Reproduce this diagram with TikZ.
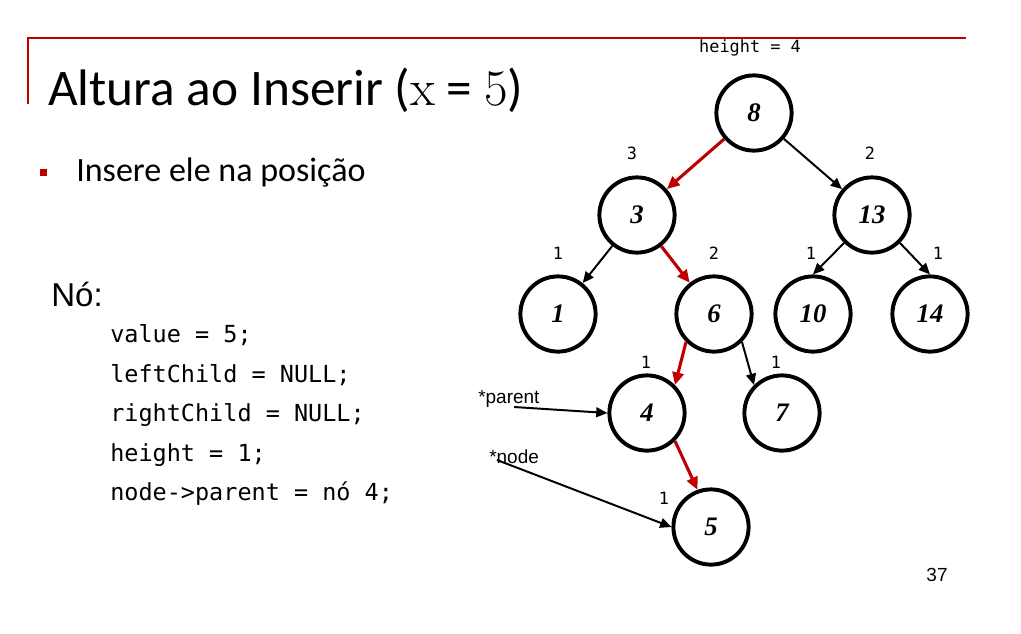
\documentclass[tikz,border=0pt]{standalone}
\usepackage{fontspec}
\usetikzlibrary{arrows.meta}
\newfontfamily\slidefont{Carlito}
\newfontfamily\arialfont{Liberation Sans}
\newfontfamily\codefont{DejaVu Sans Mono}
\newfontfamily\keyfont{Liberation Serif}
\newfontfamily\mathlike{Latin Modern Roman}
\definecolor{slidered}{RGB}{192,0,0}
\begin{document}
\begin{tikzpicture}[x=0.025cm,y=-0.025cm,
  treenode/.style={circle, draw, line width=2.8pt, minimum size=1.88cm, inner sep=0pt,
    font=\keyfont\bfseries\itshape\fontsize{19}{19}\selectfont},
  blackedge/.style={line width=1.4pt, -{Triangle[length=8pt,width=7pt]}},
  rededge/.style={slidered, line width=2.2pt, -{Triangle[length=9pt,width=8pt]}},
  hlabel/.style={font=\codefont\fontsize{12}{12}\selectfont, inner sep=0pt},
  codeline/.style={anchor=base west, inner sep=0pt, font=\codefont\fontsize{16.7}{17}\selectfont},
  pointer/.style={anchor=base west, inner sep=0pt, font=\arialfont\fontsize{13.5}{14}\selectfont}]
\fill[white] (0,0) rectangle (1021,633);
\useasboundingbox (0,0) rectangle (1021,633);

% slide frame
\draw[slidered, line width=1.4pt] (28,104) -- (28,38) -- (966,38);

% title and bullet
\node[anchor=base west, inner sep=0pt, font=\slidefont\fontsize{36.5}{37}\selectfont] (title) at (48,105)
  {Altura ao Inserir ({\mathlike x} = {\mathlike 5})};
\fill[slidered] (39.5,168.5) rectangle (46.5,175.5);
\node[anchor=base west, inner sep=0pt, font=\slidefont\fontsize{24.2}{25}\selectfont] (bullet) at (76,181)
  {Insere ele na posição};

% node record
\node[anchor=base west, inner sep=0pt, font=\arialfont\fontsize{23.5}{24}\selectfont] (no) at (51,306) {Nó:};
\node[codeline] (c1) at (110,342) {value = 5;};
\node[codeline] (c2) at (110,382) {leftChild = NULL;};
\node[codeline] (c3) at (110,421) {rightChild = NULL;};
\node[codeline] (c4) at (110,461) {height = 1;};
\node[codeline] (c5) at (110,500) {node->parent = nó 4;};

% tree
\node[treenode] (n8)  at (754,113) {8};
\node[treenode] (n3)  at (637,215) {3};
\node[treenode] (n13) at (872,215) {13};
\node[treenode] (n1)  at (558,314) {1};
\node[treenode] (n6)  at (714,314) {6};
\node[treenode] (n10) at (813,314) {10};
\node[treenode] (n14) at (930,314) {14};
\node[treenode] (n4)  at (647,413) {4};
\node[treenode] (n7)  at (782,413) {7};
\node[treenode] (n5)  at (711,527) {5};

% heights
\node[hlabel] (h8)  at (750,48)  {height = 4};
\node[hlabel] (h3)  at (632,153) {3};
\node[hlabel] (h13) at (870,153) {2};
\node[hlabel] (h1)  at (558,253) {1};
\node[hlabel] (h6)  at (714,253) {2};
\node[hlabel] (h10) at (811,253) {1};
\node[hlabel] (h14) at (938,253) {1};
\node[hlabel] (h4)  at (646,362) {1};
\node[hlabel] (h7)  at (776,362) {1};
\node[hlabel] (h5)  at (664,498) {1};

% edges
\draw[rededge] (n8) -- (n3);
\draw[blackedge] (n8) -- (n13);
\draw[blackedge] (n3) -- (n1);
\draw[rededge] (n3) -- (n6);
\draw[blackedge] (n13.south west) -- (n10.north);
\draw[blackedge] (n13.south east) -- (n14.north);
\draw[rededge] (n6.south west) -- (n4.north east);
\draw[blackedge] (n6.south east) -- (n7.north west);
\draw[rededge] (n4.south east) -- (n5.110);

% pointers
\node[pointer] (parent) at (478,403) {*parent};
\node[pointer] (nodeptr) at (489,463) {*node};
\coordinate (ps) at (514,407);
\coordinate (ns) at (497,460);
\draw[blackedge] (ps) -- (n4.west);
\draw[blackedge] (ns) -- (n5.west);

% page number
\node[anchor=base, inner sep=0pt, font=\arialfont\fontsize{13.5}{14}\selectfont] (page) at (937,581) {37};
\end{tikzpicture}
\end{document}
